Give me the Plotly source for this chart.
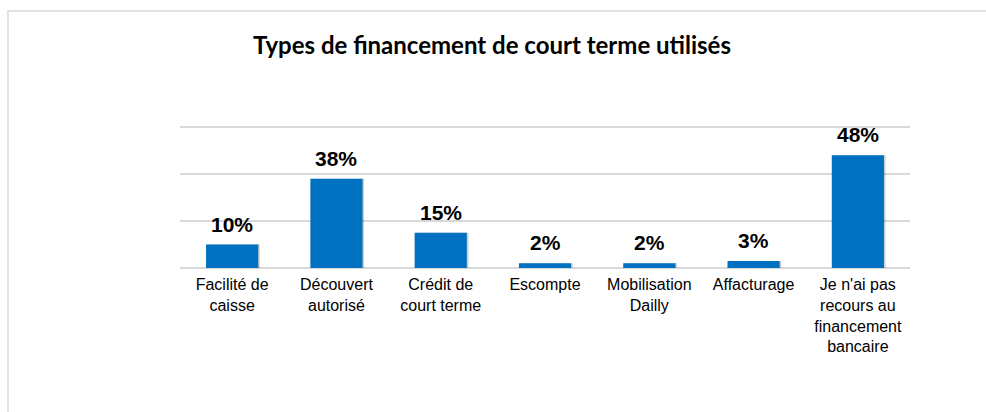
import plotly.graph_objects as go

# Survey results: short-term financing types used (% of respondents)
categories = [
    "Facilité de<br>caisse",
    "Découvert<br>autorisé",
    "Crédit de<br>court terme",
    "Escompte",
    "Mobilisation<br>Dailly",
    "Affacturage",
    "Je n'ai pas<br>recours au<br>financement<br>bancaire",
]
values = [10, 38, 15, 2, 2, 3, 48]
value_labels = [f"{v}%" for v in values]
y_ticks = [0, 20, 40, 60]

BAR_COLOR = "#0070C0"
GRID_COLOR = "#d9d9d9"
Y_MAX = 63

fig = go.Figure()

# soft drop shadow behind each bar
fig.add_trace(go.Bar(
    x=categories, y=values,
    width=0.5, offset=-0.235,
    marker=dict(color="rgba(0,0,0,0.2)", line=dict(width=0)),
    hoverinfo="skip", showlegend=False,
))
fig.add_trace(go.Bar(
    x=categories, y=values,
    width=0.5, offset=-0.25,
    marker=dict(color=BAR_COLOR, line=dict(width=0)),
    showlegend=False,
))

for cat, v, lab in zip(categories, values, value_labels):
    fig.add_annotation(
        x=cat, y=v, text=f"<b>{lab}</b>", showarrow=False,
        yanchor="bottom", yshift=7,
        font=dict(family="Liberation Sans, Arial, sans-serif", size=21, color="#000000"),
    )

W, H = 986, 412
L, R = 180, 76
B = 144                          # baseline sits at y = 268
PX_PER_UNIT = 141 / 60           # 20 % per 47 px
T = round(H - B - Y_MAX * PX_PER_UNIT)
pw, ph = W - L - R, H - T - B

def px_x(p):
    return (p - L) / pw

def px_y(p):
    return (H - B - p) / ph

# outer chart frame
fig.add_shape(
    type="rect", xref="paper", yref="paper",
    x0=px_x(8), x1=px_x(1000), y0=px_y(430), y1=px_y(11),
    line=dict(color="#d9d9d9", width=1.5), fillcolor="rgba(0,0,0,0)",
    layer="below",
)

fig.update_layout(
    width=W, height=H,
    margin=dict(l=L, r=R, t=T, b=B),
    paper_bgcolor="white", plot_bgcolor="white",
    barmode="overlay",
    title=dict(
        text="<b>Types de financement de court terme utilisés</b>",
        x=px_x(492), xref="paper", xanchor="center",
        y=1 - 46 / H, yanchor="middle",
        font=dict(family="Lato, Carlito, sans-serif", size=24, color="#000000"),
    ),
    xaxis=dict(
        showgrid=False, showline=False, ticks="",
        tickfont=dict(family="Liberation Sans, Arial, sans-serif", size=16, color="#000000"),
        ticklabelstandoff=5,
    ),
    yaxis=dict(
        range=[0, Y_MAX], tickvals=y_ticks, showticklabels=False,
        showgrid=True, gridcolor=GRID_COLOR, gridwidth=1.5,
        zeroline=True, zerolinecolor=GRID_COLOR, zerolinewidth=1.5,
        showline=False, ticks="",
    ),
)

fig.write_html("out.html")
